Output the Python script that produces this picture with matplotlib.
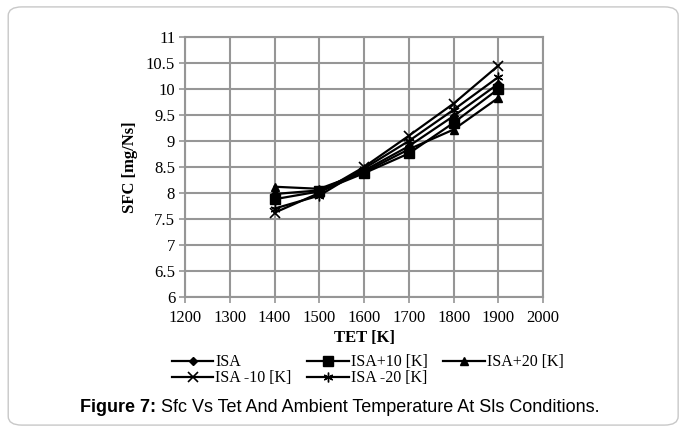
import matplotlib
matplotlib.use("Agg")
import matplotlib.pyplot as plt
from matplotlib.patches import FancyBboxPatch

tet = [1400, 1500, 1600, 1700, 1800, 1900]
sfc_isa = [7.98, 8.05, 8.43, 8.90, 9.48, 10.10]
sfc_isa_p10 = [7.88, 8.03, 8.38, 8.76, 9.35, 10.00]
sfc_isa_p20 = [8.12, 8.08, 8.40, 8.84, 9.22, 9.83]
sfc_isa_m10 = [7.62, 8.00, 8.50, 9.10, 9.72, 10.45]
sfc_isa_m20 = [7.70, 7.95, 8.47, 9.00, 9.60, 10.23]

labels = ["ISA", "ISA+10 [K]", "ISA+20 [K]", "ISA -10 [K]", "ISA -20 [K]"]
xticks = [1200, 1300, 1400, 1500, 1600, 1700, 1800, 1900, 2000]
yticks = [6, 6.5, 7, 7.5, 8, 8.5, 9, 9.5, 10, 10.5, 11]

serif = ["Liberation Serif", "DejaVu Serif"]

fig = plt.figure(figsize=(6.85, 4.32), dpi=100)
box = FancyBboxPatch((0.012, 0.016), 0.978, 0.968, boxstyle="round,pad=0,rounding_size=0.02",
                     transform=fig.transFigure, facecolor="none", edgecolor="#c8c8c8", lw=1.0)
fig.patches.append(box)

ax = fig.add_axes([0.270, 0.3125, 0.523, 0.602])

h_isa, = ax.plot(tet, sfc_isa, color="black", lw=1.6, marker="D", ms=4, label=labels[0])
h_p10, = ax.plot(tet, sfc_isa_p10, color="black", lw=1.6, marker="s", ms=7, label=labels[1])
h_p20, = ax.plot(tet, sfc_isa_p20, color="black", lw=1.6, marker="^", ms=6, label=labels[2])
h_m10, = ax.plot(tet, sfc_isa_m10, color="black", lw=1.6, marker="x", ms=7, mew=1.2, label=labels[3])
h_m20, = ax.plot(tet, sfc_isa_m20, color="black", lw=1.6, marker=(6, 2, 0), ms=7, mew=1.0, label=labels[4])

ax.set_xlim(1200, 2000)
ax.set_ylim(6, 11)
ax.set_xticks(xticks)
ax.set_yticks(yticks)
ax.set_yticklabels([f"{v:g}" for v in yticks])
ax.grid(True, color="#969696", lw=1.5)
ax.set_axisbelow(True)
for s in ax.spines.values():
    s.set_color("#969696")
    s.set_linewidth(1.5)
ax.tick_params(axis="both", length=4, width=1.2, color="#969696", labelsize=12, pad=3)
ax.tick_params(axis="x", pad=5)
for t in ax.get_xticklabels() + ax.get_yticklabels():
    t.set_family(serif)

ax.set_xlabel("TET [K]", fontsize=12, fontweight="bold", family=serif, labelpad=3)
ax.set_ylabel("SFC [mg/Ns]", fontsize=12, fontweight="bold", family=serif, labelpad=6)

fig.legend(handles=[h_isa, h_m10, h_p10, h_m20, h_p20],
           labels=[labels[0], labels[3], labels[1], labels[4], labels[2]],
           ncol=3, loc="upper left", bbox_to_anchor=(0.251, 0.180),
           frameon=False, prop={"family": serif, "size": 11.5},
           handlelength=2.6, handletextpad=0.1, columnspacing=1.0,
           labelspacing=0.0, borderaxespad=0, borderpad=0)

cap_y = 0.056
bold = fig.text(0.117, cap_y, "Figure 7:", fontsize=13, fontweight="bold",
                family="Liberation Sans", ha="left", va="center")
rest = fig.text(0.5, cap_y, " Sfc Vs Tet And Ambient Temperature At Sls Conditions.", fontsize=13,
                family="Liberation Sans", ha="left", va="center")
fig.canvas.draw()
bb = bold.get_window_extent().transformed(fig.transFigure.inverted())
rest.set_position((bb.x1, cap_y))

fig.savefig("out.png", dpi=100)
